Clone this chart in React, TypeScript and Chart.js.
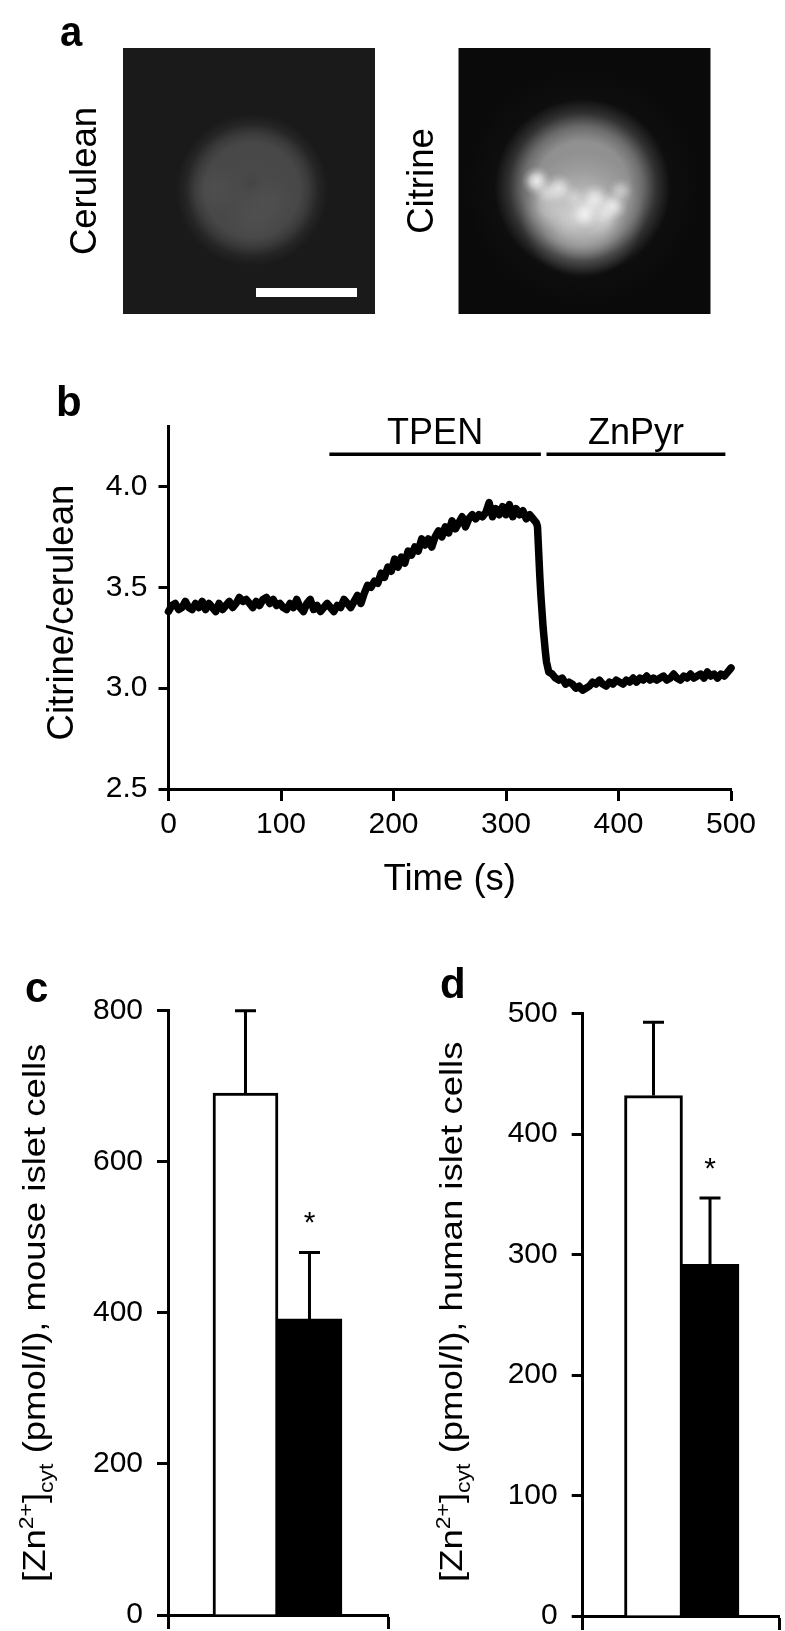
import React, { useEffect, useRef } from "react";
import { Chart, registerables } from "chart.js";

Chart.register(...registerables);

const FONT = '"Liberation Sans", Arial, sans-serif';

// Panel b
const timeS = [
  0, 3, 6, 9, 12, 15, 18, 21, 24, 27,
  30, 33, 36, 39, 42, 45, 48, 51, 54, 57,
  60, 63, 66, 69, 72, 75, 78, 81, 84, 87,
  90, 93, 96, 99, 102, 105, 108, 111, 114, 117,
  120, 123, 126, 129, 132, 135, 138, 141, 144, 147,
  150, 153, 156, 159, 162, 165, 168, 171, 174, 177,
  180, 183, 186, 189, 192, 195, 198, 201, 204, 207,
  210, 213, 216, 219, 222, 225, 228, 231, 234, 237,
  240, 243, 246, 249, 252, 255, 258, 261, 264, 267,
  270, 273, 276, 279, 282, 285, 288, 291, 294, 297,
  300, 303, 306, 309, 312, 315, 318, 321, 324, 327,
  328, 329, 330, 331, 332, 333, 334, 335, 336, 338,
  341, 344, 347, 350, 353, 356, 359, 362, 365, 368,
  371, 374, 377, 380, 383, 386, 389, 392, 395, 398,
  401, 404, 407, 410, 413, 416, 419, 422, 425, 428,
  431, 434, 437, 440, 443, 446, 449, 452, 455, 458,
  461, 464, 467, 470, 473, 476, 479, 482, 485, 488,
  491, 494, 497, 500,
];
const ratio = [
  3.38, 3.41, 3.42, 3.39, 3.40, 3.43, 3.40, 3.39, 3.42, 3.40,
  3.43, 3.39, 3.42, 3.40, 3.38, 3.42, 3.39, 3.41, 3.43, 3.40,
  3.42, 3.45, 3.43, 3.44, 3.42, 3.40, 3.43, 3.41, 3.44, 3.45,
  3.42, 3.44, 3.41, 3.42, 3.40, 3.39, 3.42, 3.40, 3.44, 3.40,
  3.38, 3.42, 3.44, 3.39, 3.41, 3.38, 3.40, 3.42, 3.40, 3.38,
  3.41, 3.40, 3.44, 3.42, 3.40, 3.43, 3.46, 3.42, 3.47, 3.51,
  3.50, 3.53, 3.52, 3.57, 3.55, 3.60, 3.58, 3.64, 3.60, 3.65,
  3.62, 3.68, 3.66, 3.70, 3.68, 3.74, 3.71, 3.74, 3.70, 3.75,
  3.78, 3.75, 3.80, 3.77, 3.83, 3.79, 3.82, 3.85, 3.80, 3.84,
  3.86, 3.84, 3.86, 3.85, 3.87, 3.92, 3.85, 3.89, 3.86, 3.90,
  3.86, 3.91, 3.85, 3.89, 3.86, 3.88, 3.84, 3.86, 3.84, 3.82,
  3.80, 3.68, 3.56, 3.46, 3.38, 3.30, 3.24, 3.18, 3.13, 3.08,
  3.07, 3.05, 3.04, 3.05, 3.02, 3.03, 3.02, 3.00, 3.01, 2.99,
  3.00, 3.01, 3.03, 3.02, 3.04, 3.02, 3.01, 3.03, 3.02, 3.04,
  3.03, 3.02, 3.04, 3.03, 3.05, 3.03, 3.05, 3.04, 3.06, 3.04,
  3.05, 3.04, 3.05, 3.06, 3.04, 3.05, 3.07, 3.05, 3.04, 3.06,
  3.05, 3.07, 3.05, 3.06, 3.07, 3.05, 3.08, 3.06, 3.07, 3.05,
  3.07, 3.06, 3.08, 3.10,
];
const bTimeTicks = [0, 100, 200, 300, 400, 500];
const bRatioTicks = [2.5, 3.0, 3.5, 4.0];
const treatments = ["TPEN", "ZnPyr"];
const treatmentStart = [143, 336];
const treatmentEnd = [331, 495];
const treatmentLevel = 4.16;

// Panel c
const cMeans = [691, 392];
const cErrorTops = [800, 480];
const cTicks = [0, 200, 400, 600, 800];
// Panel d
const dMeans = [432, 292];
const dErrorTops = [493, 347];
const dTicks = [0, 100, 200, 300, 400, 500];
const barSlots = [1, 2];

// Panel a: soft light blobs of the micrographs
const ceruleanX = [129, 92, 132, 150, 128];
const ceruleanY = [142, 142, 168, 152, 134];
const ceruleanR = [76, 28, 32, 24, 12];
const ceruleanGray = [74, 88, 90, 88, 58];
const ceruleanAlpha = [1, 0.35, 0.35, 0.3, 0.3];
const ceruleanPlateau = [0.62, 0.1, 0.1, 0.1, 0.1];

const citrineX = [124, 124, 124, 78, 88, 100, 116, 136, 126, 146, 154, 162, 92, 112, 142];
const citrineY = [139, 139, 168, 133, 145, 141, 150, 152, 166, 166, 158, 143, 158, 168, 172];
const citrineR = [118, 88, 62, 15, 13, 16, 13, 17, 16, 13, 15, 13, 24, 22, 20];
const citrineGray = [46, 150, 205, 255, 245, 250, 235, 250, 255, 245, 250, 235, 225, 230, 230];
const citrineAlpha = [0.5, 1, 0.7, 0.8, 0.5, 0.7, 0.5, 0.75, 0.8, 0.55, 0.75, 0.55, 0.4, 0.4, 0.4];
const citrinePlateau = [0.2, 0.52, 0.2, 0.1, 0.1, 0.1, 0.1, 0.1, 0.1, 0.1, 0.1, 0.1, 0.1, 0.1, 0.1];

const scaleBarX = [133, 234];
const scaleBarY = 244.5;

function zip(xs: number[], ys: number[], rs: number[], gs: number[], as: number[], ps: number[]) {
  return xs.map((x, i) => ({ x, y: ys[i], r: rs[i], g: gs[i], a: as[i], p: ps[i] }));
}

function micrograph(
  canvas: HTMLCanvasElement,
  title: string,
  axisWidth: number,
  titlePad: number,
  rightPad: number,
  bg: string,
  blobs: any[],
  bar: boolean
) {
  const datasets: any[] = [
    {
      type: "bubble",
      order: 2,
      data: blobs,
      borderWidth: 0,
      backgroundColor: (c: any) => {
        const raw = c.raw;
        if (!raw) return "transparent";
        const px = c.chart.scales.x.getPixelForValue(raw.x);
        const py = c.chart.scales.y.getPixelForValue(raw.y);
        const col = (a: number) => `rgba(${raw.g},${raw.g},${raw.g},${a})`;
        if (!Number.isFinite(px) || !Number.isFinite(py)) return col(raw.a);
        const gr = c.chart.ctx.createRadialGradient(px, py, 0, px, py, raw.r);
        const p = raw.p;
        gr.addColorStop(0, col(raw.a));
        gr.addColorStop(p, col(raw.a * 0.95));
        gr.addColorStop(p + (1 - p) * 0.33, col(raw.a * 0.68));
        gr.addColorStop(p + (1 - p) * 0.66, col(raw.a * 0.24));
        gr.addColorStop(1, col(0));
        return gr;
      },
    },
  ];
  if (bar) {
    datasets.push({
      type: "line",
      order: 1,
      data: scaleBarX.map((x) => ({ x, y: scaleBarY })),
      borderColor: "#fff",
      borderWidth: 9,
      pointRadius: 0,
      borderCapStyle: "butt",
    });
  }
  return new Chart(canvas, {
    type: "bubble",
    data: { datasets },
    options: {
      responsive: false,
      animation: false,
      events: [],
      layout: { autoPadding: false, padding: { top: 48, bottom: 16, right: rightPad, left: 0 } },
      plugins: { legend: { display: false }, tooltip: { enabled: false } },
      scales: {
        x: { type: "linear", display: false, min: 0, max: 252 },
        y: {
          type: "linear",
          reverse: true,
          min: 0,
          max: 266,
          grid: { display: false },
          border: { display: false },
          ticks: { display: false },
          title: {
            display: true,
            text: title,
            color: "#000",
            font: { family: FONT, size: 36.5 },
            padding: { top: titlePad, bottom: 0 },
          },
          afterFit: (s: any) => {
            s.width = axisWidth;
          },
        },
      },
    },
    plugins: [
      {
        id: "bg",
        beforeDatasetsDraw(ch: any) {
          const a = ch.chartArea;
          ch.ctx.save();
          ch.ctx.fillStyle = bg;
          ch.ctx.fillRect(a.left, a.top, a.right - a.left, a.bottom - a.top);
          ch.ctx.restore();
        },
      },
    ],
  } as any);
}

function traceChart(canvas: HTMLCanvasElement) {
  const treatmentSets = treatments.map((_, i) => ({
    data: [
      { x: treatmentStart[i], y: treatmentLevel },
      { x: treatmentEnd[i], y: treatmentLevel },
    ],
    borderColor: "#000",
    borderWidth: 3.5,
    showLine: true,
    pointRadius: 0,
  }));
  return new Chart(canvas, {
    type: "scatter",
    data: {
      datasets: [
        {
          data: timeS.map((x, i) => ({ x, y: ratio[i] })),
          borderColor: "#000",
          borderWidth: 7.5,
          showLine: true,
          pointRadius: 0,
          borderJoinStyle: "round",
          borderCapStyle: "round",
          clip: false,
        },
        ...treatmentSets,
      ],
    },
    options: {
      responsive: false,
      animation: false,
      events: [],
      layout: { autoPadding: false, padding: { top: 56, right: 54, left: 0, bottom: 0 } },
      plugins: { legend: { display: false }, tooltip: { enabled: false } },
      scales: {
        x: {
          type: "linear",
          min: 0,
          max: 500,
          afterBuildTicks: (s: any) => {
            s.ticks = bTimeTicks.map((value) => ({ value }));
          },
          border: { display: true, width: 3, color: "#000" },
          grid: { drawOnChartArea: false, tickLength: 12, tickWidth: 3, tickColor: "#000" },
          ticks: {
            color: "#000",
            font: { family: FONT, size: 30 },
            padding: 6,
            maxRotation: 0,
            autoSkip: false,
          },
          title: {
            display: true,
            text: "Time (s)",
            color: "#000",
            font: { family: FONT, size: 36.5 },
            padding: { top: 0, bottom: 8 },
          },
          afterFit: (s: any) => {
            s.height = 121;
          },
        },
        y: {
          type: "linear",
          min: 2.5,
          max: 4.3,
          afterBuildTicks: (s: any) => {
            s.ticks = bRatioTicks.map((value) => ({ value }));
          },
          border: { display: true, width: 3, color: "#000" },
          grid: { drawOnChartArea: false, tickLength: 10, tickWidth: 3, tickColor: "#000" },
          ticks: {
            color: "#000",
            font: { family: FONT, size: 30 },
            padding: 11,
            callback: (v: any) => Number(v).toFixed(1),
          },
          title: {
            display: true,
            text: "Citrine/cerulean ",
            color: "#000",
            font: { family: FONT, size: 36.5 },
            padding: { top: 41, bottom: 0 },
          },
          afterFit: (s: any) => {
            s.width = 168.5;
          },
        },
      },
    },
    plugins: [
      {
        id: "treatmentLabels",
        afterDatasetsDraw(ch: any) {
          const { ctx, scales } = ch;
          ctx.save();
          ctx.fillStyle = "#000";
          ctx.font = `36px ${FONT}`;
          ctx.textAlign = "center";
          ctx.textBaseline = "alphabetic";
          treatments.forEach((t, i) => {
            const px = scales.x.getPixelForValue((treatmentStart[i] + treatmentEnd[i]) / 2);
            const py = scales.y.getPixelForValue(treatmentLevel);
            ctx.fillText(t, px, py - 10);
          });
          ctx.restore();
        },
      },
    ],
  } as any);
}

function barChart(
  canvas: HTMLCanvasElement,
  opts: {
    means: number[];
    tops: number[];
    ticks: number[];
    axisLeft: number;
    padTop: number;
    padRight: number;
    xMin: number;
    xMax: number;
    yMax: number;
    thickness: number;
    place: string;
    baseX: number;
    startY: number;
  }
) {
  const { means, tops, ticks, place } = opts;
  return new Chart(canvas, {
    type: "bar",
    data: {
      datasets: [
        {
          data: barSlots.map((x, i) => ({ x, y: means[i] })),
          backgroundColor: ["#fff", "#000"],
          borderColor: "#000",
          borderWidth: 3,
          barThickness: opts.thickness,
        },
      ],
    },
    options: {
      responsive: false,
      animation: false,
      events: [],
      layout: { autoPadding: false, padding: { top: opts.padTop, right: opts.padRight, left: 0, bottom: 0 } },
      plugins: { legend: { display: false }, tooltip: { enabled: false } },
      scales: {
        x: {
          type: "linear",
          offset: false,
          min: opts.xMin,
          max: opts.xMax,
          afterBuildTicks: (s: any) => {
            s.ticks = [{ value: opts.xMin }, { value: opts.xMax }];
          },
          border: { display: true, width: 3, color: "#000" },
          grid: { offset: false, drawOnChartArea: false, tickLength: 14, tickWidth: 3, tickColor: "#000" },
          ticks: { display: false },
          afterFit: (s: any) => {
            s.height = 33;
          },
        },
        y: {
          type: "linear",
          min: 0,
          max: opts.yMax,
          afterBuildTicks: (s: any) => {
            s.ticks = ticks.map((value) => ({ value }));
          },
          border: { display: true, width: 3, color: "#000" },
          grid: { drawOnChartArea: false, tickLength: 11, tickWidth: 3, tickColor: "#000" },
          ticks: { color: "#000", font: { family: FONT, size: 30 }, padding: 14 },
          afterFit: (s: any) => {
            s.width = opts.axisLeft;
          },
        },
      },
    },
    plugins: [
      {
        id: "errorBars",
        afterDatasetsDraw(ch: any) {
          const { ctx, scales } = ch;
          ctx.save();
          ctx.strokeStyle = "#000";
          ctx.fillStyle = "#000";
          ctx.lineWidth = 3;
          barSlots.forEach((slot, i) => {
            const px = scales.x.getPixelForValue(slot);
            const top = scales.y.getPixelForValue(tops[i]);
            const base = scales.y.getPixelForValue(means[i]);
            ctx.beginPath();
            ctx.moveTo(px, base);
            ctx.lineTo(px, top);
            ctx.moveTo(px - 10.5, top);
            ctx.lineTo(px + 10.5, top);
            ctx.stroke();
          });
          const sx = scales.x.getPixelForValue(barSlots[1]);
          const sy = scales.y.getPixelForValue(tops[1]);
          ctx.font = `30px ${FONT}`;
          ctx.textAlign = "center";
          ctx.textBaseline = "alphabetic";
          ctx.fillText("*", sx, sy - 20);
          ctx.restore();
        },
      },
      {
        id: "richYTitle",
        afterDraw(ch: any) {
          const { ctx } = ch;
          const big = 36.5;
          const small = 23;
          const runs: [string, number, number][] = [
            ["[Zn", big, 0],
            ["2+", small, 14],
            ["]", big, 0],
            ["cyt", small, -9],
            [` (pmol/l), ${place} islet cells`, big, 0],
          ];
          ctx.save();
          ctx.fillStyle = "#000";
          ctx.textBaseline = "alphabetic";
          ctx.textAlign = "left";
          ctx.translate(opts.baseX, opts.startY);
          ctx.rotate(-Math.PI / 2);
          ctx.scale(1, 0.85);
          let at = 0;
          runs.forEach(([t, size, dy]) => {
            ctx.font = `${size}px ${FONT}`;
            ctx.fillText(t, at, -dy);
            at += ctx.measureText(t).width;
          });
          ctx.restore();
        },
      },
    ],
  } as any);
}

const letters: [string, number, number, number, number][] = [
  ["a", 60, 10, 40, 1.05],
  ["b", 56, 381, 42, 1],
  ["c", 25, 967, 42, 1],
  ["d", 440, 963, 42, 1],
];

export default function App() {
  const aRef = useRef<HTMLCanvasElement>(null);
  const a2Ref = useRef<HTMLCanvasElement>(null);
  const bRef = useRef<HTMLCanvasElement>(null);
  const cRef = useRef<HTMLCanvasElement>(null);
  const dRef = useRef<HTMLCanvasElement>(null);

  useEffect(() => {
    const charts = [
      micrograph(
        aRef.current!,
        "Cerulean",
        123,
        64,
        5,
        "#1a1a1a",
        zip(ceruleanX, ceruleanY, ceruleanR, ceruleanGray, ceruleanAlpha, ceruleanPlateau),
        true
      ),
      micrograph(
        a2Ref.current!,
        "Citrine",
        78.5,
        21,
        4.5,
        "#0a0a0a",
        zip(citrineX, citrineY, citrineR, citrineGray, citrineAlpha, citrinePlateau),
        false
      ),
      traceChart(bRef.current!),
      barChart(cRef.current!, {
        means: cMeans,
        tops: cErrorTops,
        ticks: cTicks,
        axisLeft: 168,
        padTop: 50.7,
        padRight: 12,
        xMin: -0.211,
        xMax: 3.227,
        yMax: 800,
        thickness: 65,
        place: "mouse",
        baseX: 45,
        startY: 622,
      }),
      barChart(dRef.current!, {
        means: dMeans,
        tops: dErrorTops,
        ticks: dTicks,
        axisLeft: 182.7,
        padTop: 53.7,
        padRight: 6,
        xMin: -0.253,
        xMax: 3.221,
        yMax: 500,
        thickness: 58,
        place: "human",
        baseX: 62,
        startY: 622,
      }),
    ];
    return () => charts.forEach((c) => c.destroy());
  }, []);

  const abs = (left: number, top: number): React.CSSProperties => ({
    position: "absolute",
    left,
    top,
    display: "block",
  });

  return (
    <div style={{ position: "absolute", left: 0, top: 0, width: 785, height: 1631, background: "#fff", overflow: "hidden", fontFamily: FONT }}>
      <canvas ref={aRef} width={380} height={330} style={abs(0, 0)} />
      <canvas ref={a2Ref} width={335} height={330} style={abs(380, 0)} />
      <canvas ref={bRef} width={785} height={540} style={abs(0, 370)} />
      <canvas ref={cRef} width={400} height={688} style={abs(0, 960)} />
      <canvas ref={dRef} width={385} height={689} style={abs(400, 960)} />
      {letters.map(([t, x, y, size, sy]) => (
        <div
          key={t}
          style={{
            position: "absolute",
            left: x,
            top: y,
            fontSize: size,
            fontWeight: 700,
            lineHeight: 1,
            color: "#000",
            transform: `scaleY(${sy})`,
            transformOrigin: "left top",
          }}
        >
          {t}
        </div>
      ))}
    </div>
  );
}
